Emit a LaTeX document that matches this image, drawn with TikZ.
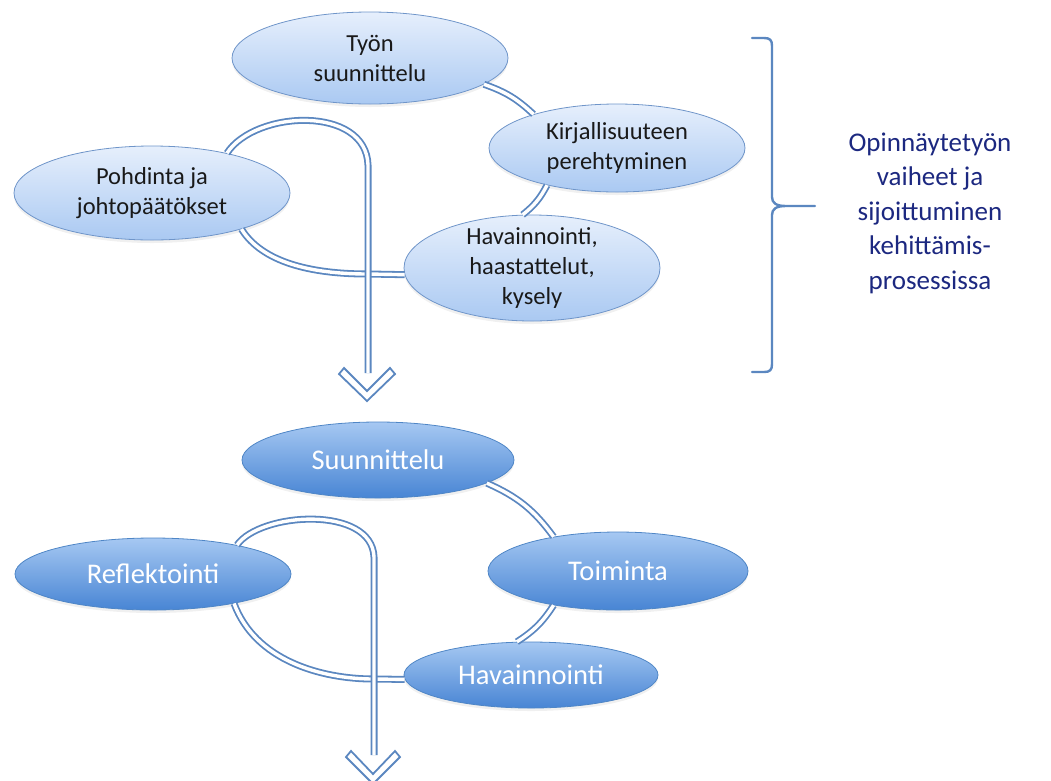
\documentclass[tikz,border=0pt]{standalone}
\usepackage{fontspec}
\setmainfont{Carlito}
\usetikzlibrary{shapes.geometric,shadows}
\definecolor{linec}{RGB}{91,135,192}
\definecolor{lighttop}{RGB}{230,239,252}
\definecolor{lightbot}{RGB}{170,201,242}
\definecolor{lightdraw}{RGB}{111,149,201}
\definecolor{darktop}{RGB}{166,200,242}
\definecolor{darkbot}{RGB}{72,133,212}
\definecolor{darkdraw}{RGB}{79,134,198}
\definecolor{navy}{RGB}{28,40,128}
\definecolor{txtdark}{RGB}{25,25,25}
\tikzset{
 ellbase/.style={ellipse, inner sep=0pt, align=center,
   drop shadow={shadow xshift=0pt, shadow yshift=-3pt, opacity=0.12}},
 lightell/.style={ellbase, draw=lightdraw, line width=0.8pt, top color=lighttop,
   bottom color=lightbot, text=txtdark, font=\fontsize{24.5}{30}\selectfont},
 darkell/.style={ellbase, draw=darkdraw, line width=0.8pt, top color=darktop,
   bottom color=darkbot, text=white, font=\fontsize{28.5}{34}\selectfont},
 conn/.style={draw=linec, line width=1.8pt, double=white, double distance=3.4pt},
 chev/.style={draw=linec, line width=1.8pt, fill=white, line join=miter},
 bracestyle/.style={draw=linec, line width=2.4pt, line cap=round, line join=round},
 lbl/.style={text=navy, align=center, font=\fontsize{27}{34.5}\selectfont}
}
\begin{document}
\begin{tikzpicture}[x=1pt,y=-1pt]
\useasboundingbox (0,0) rectangle (1051,780);
% ---------- top cycle ----------
\node[lightell, minimum width=276pt, minimum height=92pt] (tyon) at (370,58) {Työn\\suunnittelu};
\node[lightell, minimum width=256pt, minimum height=88pt] (kirj) at (617,148) {Kirjallisuuteen\\perehtyminen};
\node[lightell, minimum width=276pt, minimum height=94pt] (pohd) at (152,193) {Pohdinta ja\\johtopäätökset};
\node[lightell, minimum width=256pt, minimum height=106pt, inner ysep=-12pt] (hav1) at (532,268) {Havainnointi,\\haastattelut,\\kysely};
\coordinate (tip1) at (368,373);
\draw[conn] (tyon.-13) to[bend left=12] (kirj.158);
\draw[conn] (kirj.208) to[bend left=12] (hav1.100);
\draw[conn] (pohd.-22) .. controls (262,262) and (310,274) .. (368,274) -- (hav1.183);
\draw[conn] (pohd.28) .. controls (255,110) and (366,105) .. (368,165) -- (tip1);
\draw[chev] (339,374) -- (367,401) -- (395,374) -- (390,368) -- (367,391) -- (344,368) -- cycle;
% ---------- bottom cycle ----------
\node[darkell, minimum width=272pt, minimum height=76pt] (suun) at (378,460) {Suunnittelu};
\node[darkell, minimum width=276pt, minimum height=72pt] (refl) at (153,574) {Reflektointi};
\node[darkell, minimum width=260pt, minimum height=78pt] (toim) at (618,571) {Toiminta};
\node[darkell, minimum width=254pt, minimum height=66pt] (hav2) at (531,675) {Havainnointi};
\coordinate (tip2) at (374,755);
\draw[conn] (suun.-12) to[bend left=15] (toim.152);
\draw[conn] (toim.208) to[bend left=12] (hav2.113);
\draw[conn] (refl.-20) .. controls (255,660) and (320,679) .. (374,679) -- (hav2.182);
\draw[conn] (refl.19) .. controls (260,512) and (372,505) .. (374,557) -- (tip2);
\draw[chev] (346,757) -- (373,784) -- (400,757) -- (395,751) -- (373,774) -- (351,751) -- cycle;
% ---------- brace and label ----------
\draw[bracestyle] (752,38) -- (764,38) .. controls (770,38) and (772,40) .. (772,46)
  -- (772,197) .. controls (772,203) and (776,206) .. (786,206) -- (815,206)
  (786,206) .. controls (776,206) and (772,209) .. (772,215)
  -- (772,364) .. controls (772,370) and (770,372) .. (764,372) -- (752,372);
\node[lbl] (label) at (930,213) {Opinnäytetyön\\vaiheet ja\\sijoittuminen\\kehittämis-\\prosessissa};
\end{tikzpicture}
\end{document}
